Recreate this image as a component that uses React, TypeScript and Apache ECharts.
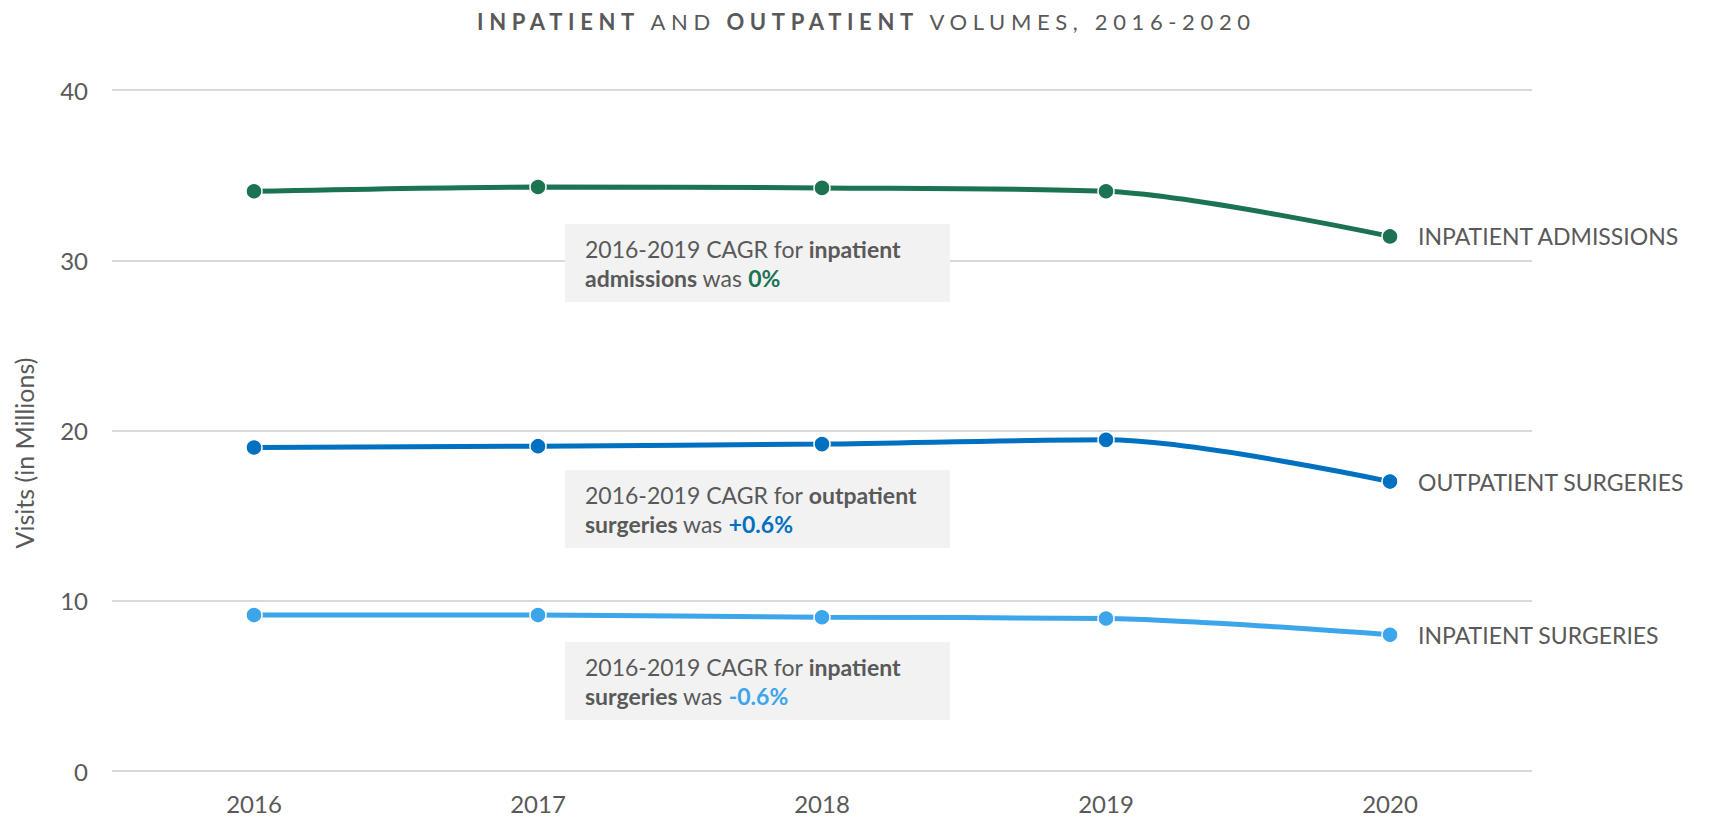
import React, { useEffect, useRef } from "react";
import * as echarts from "echarts";

const years = ["2016", "2017", "2018", "2019", "2020"];
const inpatientAdmissions = [34.05, 34.3, 34.25, 34.05, 31.4];
const outpatientSurgeries = [19.0, 19.08, 19.2, 19.45, 17.0];
const inpatientSurgeries = [9.16, 9.16, 9.03, 8.96, 8.0];
const seriesNames = ["INPATIENT ADMISSIONS", "OUTPATIENT SURGERIES", "INPATIENT SURGERIES"];
const seriesColors = ["#1b7352", "#0070c0", "#3da5ea"];
const titleParts = [
  { text: "INPATIENT", bold: true, x: 604 },
  { text: "AND", bold: false, x: 718 },
  { text: "OUTPATIENT", bold: true, x: 766 },
  { text: "VOLUMES, 2016-2020", bold: false, x: 903 },
];
const TITLE_LEFT = 477;
const TITLE_RIGHT = 1250;

const FONT = "Lato, 'Open Sans', sans-serif";
const TEXT = "#595959";

export default function App() {
  const ref = useRef<HTMLDivElement>(null);
  useEffect(() => {
    document.body.style.margin = "0";
    const chart = echarts.init(ref.current!, null, { renderer: "svg" });
    const seriesData = [inpatientAdmissions, outpatientSurgeries, inpatientSurgeries];

    const annotation = (top: number, kind: string, noun: string, value: string, color: string) => [
      {
        type: "rect",
        shape: { x: 565, y: top, width: 385, height: 78 },
        style: { fill: "#f2f2f2" },
        z: 1,
      },
      {
        type: "text",
        x: 585,
        y: top + 39,
        z: 2,
        style: {
          text: `2016-2019 CAGR for {b|${kind}}\n{b|${noun}} was {v|${value}}`,
          fontFamily: FONT,
          fontSize: 23,
          lineHeight: 29,
          fill: TEXT,
          verticalAlign: "middle",
          align: "left",
          rich: {
            b: { fontFamily: FONT, fontSize: 23, lineHeight: 29, fontWeight: "bold", fill: TEXT },
            v: { fontFamily: FONT, fontSize: 23, lineHeight: 29, fontWeight: "bold", fill: color },
          },
        },
      },
    ];

    chart.setOption({
      animation: false,
      grid: { left: 112, right: 178, top: 90, bottom: 46, containLabel: false },
      xAxis: {
        type: "category",
        data: years,
        boundaryGap: true,
        axisLine: { show: false },
        axisTick: { show: false },
        axisLabel: { color: TEXT, fontFamily: FONT, fontSize: 24, margin: 20 },
      },
      yAxis: {
        type: "value",
        min: 0,
        max: 40,
        interval: 10,
        axisLine: { show: false },
        axisTick: { show: false },
        axisLabel: { color: TEXT, fontFamily: FONT, fontSize: 24, margin: 24 },
        splitLine: { lineStyle: { color: "#d9d9d9", width: 2 } },
      },
      graphic: [
        ...titleParts.map((p) => ({
          type: "text",
          x: p.x,
          y: 21,
          style: {
            text: p.text,
            fontFamily: FONT,
            fontSize: 22,
            fontWeight: p.bold ? "bold" : "normal",
            fill: TEXT,
            align: "left",
            verticalAlign: "middle",
          },
        })),
        {
          type: "text",
          x: 24,
          y: 453,
          rotation: Math.PI / 2,
          style: {
            text: "Visits (in Millions)",
            fontFamily: FONT,
            fontSize: 25,
            fill: TEXT,
            align: "center",
            verticalAlign: "middle",
          },
        },
        ...annotation(224, "inpatient", "admissions", "0%", seriesColors[0]),
        ...annotation(470, "outpatient", "surgeries", "+0.6%", seriesColors[1]),
        ...annotation(642, "inpatient", "surgeries", "-0.6%", seriesColors[2]),
      ],
      series: seriesNames.map((name, i) => ({
        name,
        type: "line",
        data: seriesData[i],
        smooth: 0.3,
        z: 5,
        symbol: "circle",
        symbolSize: 16,
        lineStyle: { color: seriesColors[i], width: 5 },
        itemStyle: { color: seriesColors[i], borderColor: "#ffffff", borderWidth: 1.5 },
        endLabel: {
          show: true,
          formatter: name,
          color: TEXT,
          fontFamily: FONT,
          fontSize: 23,
          distance: 28,
        },
      })),
    });

    // Letter-spaced title: spread the four title pieces over the reference span.
    const spaceTitle = () => {
      try {
        const root = ref.current;
        if (!root) return;
        const svg = root.querySelector("svg");
        if (!svg) return;
        const all = Array.from(root.querySelectorAll("text")) as SVGTextElement[];
        const els = titleParts.map((p) => all.find((t) => (t.textContent || "").trim() === p.text));
        if (els.some((e) => !e)) return;
        const texts = els as SVGTextElement[];
        texts.forEach((t) => t.setAttribute("letter-spacing", "0"));
        const bases = texts.map((t) => t.getComputedTextLength());
        const space = 5;
        const sumBase = bases.reduce((a, b) => a + b, 0);
        const s = (TITLE_RIGHT - TITLE_LEFT - sumBase - 3 * space) / 42;
        const svgLeft = svg.getBoundingClientRect().left;
        let left = TITLE_LEFT;
        texts.forEach((t, i) => {
          t.setAttribute("letter-spacing", s.toFixed(2));
          const cur = t.getBoundingClientRect().left - svgLeft;
          const dx = left - cur;
          const prev = t.getAttribute("transform") || "";
          t.setAttribute("transform", `translate(${dx.toFixed(2)} 0) ${prev}`.trim());
          const n = titleParts[i].text.length;
          left += bases[i] + (n - 1) * s + space + 2 * s;
        });
      } catch (e) {
        // leave title as drawn
      }
    };
    chart.on("finished", spaceTitle);
    const timer = setTimeout(spaceTitle, 60);
    return () => {
      clearTimeout(timer);
      chart.dispose();
    };
  }, []);
  return <div ref={ref} style={{ width: 1710, height: 817 }} />;
}
